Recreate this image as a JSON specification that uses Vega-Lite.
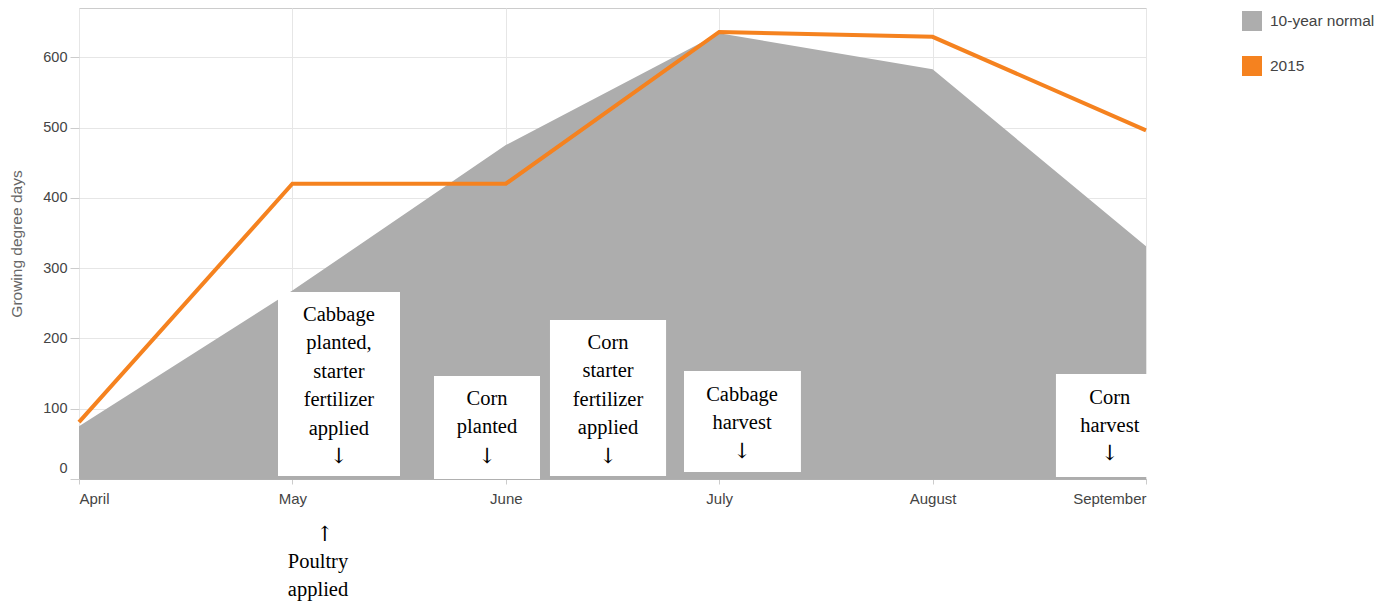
{
  "$schema": "https://vega.github.io/schema/vega-lite/v6.json",
  "width": 1067,
  "height": 471,
  "autosize": "none",
  "padding": {"left": 79, "top": 8, "right": 245, "bottom": 127},
  "background": "white",
  "config": {
    "view": {"stroke": "#cccccc"},
    "font": "Liberation Sans"
  },
  "datasets": {
    "gdd": [
      {"month": 0, "series": "10-year normal", "gdd": 75},
      {"month": 1, "series": "10-year normal", "gdd": 268},
      {"month": 2, "series": "10-year normal", "gdd": 475},
      {"month": 3, "series": "10-year normal", "gdd": 634},
      {"month": 4, "series": "10-year normal", "gdd": 583},
      {"month": 5, "series": "10-year normal", "gdd": 331},
      {"month": 0, "series": "2015", "gdd": 81},
      {"month": 1, "series": "2015", "gdd": 420},
      {"month": 2, "series": "2015", "gdd": 420},
      {"month": 3, "series": "2015", "gdd": 636},
      {"month": 4, "series": "2015", "gdd": 629},
      {"month": 5, "series": "2015", "gdd": 496}
    ],
    "boxes": [
      {"label": ["Cabbage", "planted,", "starter", "fertilizer", "applied"], "arrow": "↓", "x": 0.9325, "x2": 1.5042, "y": 266, "y2": 4.3, "tx": 1.218, "ty": 233.3, "ay": 31.3},
      {"label": ["Corn", "planted"], "arrow": "↓", "x": 1.6635, "x2": 2.1603, "y": 146.5, "y2": 0, "tx": 1.912, "ty": 113.8, "ay": 31.3},
      {"label": ["Corn", "starter", "fertilizer", "applied"], "arrow": "↓", "x": 2.207, "x2": 2.751, "y": 226.2, "y2": 4.3, "tx": 2.479, "ty": 193.5, "ay": 31.3},
      {"label": ["Cabbage", "harvest"], "arrow": "↓", "x": 2.835, "x2": 3.383, "y": 153.6, "y2": 10, "tx": 3.107, "ty": 119.5, "ay": 38.4},
      {"label": ["Corn", "harvest"], "arrow": "↓", "x": 4.578, "x2": 5.005, "y": 149.4, "y2": 2.8, "tx": 4.83, "ty": 115.2, "ay": 35.6}
    ],
    "below": [
      {"label": ["Poultry", "applied"], "arrow": "↑", "tx": 1.12, "ax": 1.152, "ty": -118.5, "ay": -79.7}
    ]
  },
  "layer": [
    {
      "data": {"name": "gdd"},
      "transform": [{"filter": "datum.series === '10-year normal'"}],
      "mark": {"type": "area", "opacity": 1},
      "encoding": {
        "x": {
          "field": "month", "type": "quantitative",
          "scale": {"domain": [0, 5], "nice": false, "zero": false},
          "axis": {
            "values": [0, 1, 2, 3, 4, 5],
            "labelExpr": "['April','May','June','July','August','September'][datum.value]",
            "labelFlush": true,
            "title": null,
            "grid": true,
            "gridColor": "#e6e6e6",
            "domainColor": "#b0b0b0",
            "tickColor": "#cccccc",
            "tickSize": 5,
            "labelPadding": 7,
            "labelFontSize": 15,
            "labelColor": "#444444"
          }
        },
        "y": {
          "field": "gdd", "type": "quantitative",
          "scale": {"domain": [0, 670], "nice": false},
          "axis": {
            "values": [0, 100, 200, 300, 400, 500, 600],
            "title": "Growing degree days",
            "titleFontSize": 15.5,
            "titleFontWeight": "normal",
            "titleColor": "#666666",
            "titlePadding": 18,
            "grid": true,
            "gridColor": "#e6e6e6",
            "domain": false,
            "tickColor": "#cccccc",
            "tickSize": 9,
            "labelPadding": 3,
            "labelFontSize": 14.5,
            "labelColor": "#444444",
            "labelOffset": {"condition": {"test": "datum.value === 0", "value": -11}, "value": 0}
          }
        },
        "color": {
          "field": "series", "type": "nominal",
          "scale": {"domain": ["10-year normal", "2015"], "range": ["#adadad", "#f5821f"]},
          "legend": {
            "title": null,
            "orient": "none",
            "legendX": 1163,
            "legendY": 3,
            "symbolType": "square",
            "symbolSize": 400,
            "symbolStrokeWidth": 0,
            "rowPadding": 25,
            "labelOffset": 8,
            "labelFontSize": 15.5,
            "labelColor": "#444444",
            "encode": {
              "symbols": {"update": {"fill": {"scale": "color", "field": "value"}, "stroke": {"value": "transparent"}, "opacity": {"value": 1}}}
            }
          }
        }
      }
    },
    {
      "data": {"name": "gdd"},
      "transform": [{"filter": "datum.series === '2015'"}],
      "mark": {"type": "line", "strokeWidth": 4},
      "encoding": {
        "x": {"field": "month", "type": "quantitative"},
        "y": {"field": "gdd", "type": "quantitative"},
        "color": {"field": "series", "type": "nominal"}
      }
    },
    {
      "data": {"name": "boxes"},
      "mark": {"type": "rect", "fill": "white"},
      "encoding": {
        "x": {"field": "x", "type": "quantitative"},
        "x2": {"field": "x2"},
        "y": {"field": "y", "type": "quantitative"},
        "y2": {"field": "y2"}
      }
    },
    {
      "data": {"name": "boxes"},
      "mark": {"type": "text", "font": "Liberation Serif", "fontSize": 20.5, "lineHeight": 28.4, "align": "center", "baseline": "middle", "color": "black"},
      "encoding": {
        "x": {"field": "tx", "type": "quantitative"},
        "y": {"field": "ty", "type": "quantitative"},
        "text": {"field": "label"}
      }
    },
    {
      "data": {"name": "boxes"},
      "mark": {"type": "text", "font": "DejaVu Serif", "fontSize": 21, "align": "center", "baseline": "middle", "color": "black"},
      "encoding": {
        "x": {"field": "tx", "type": "quantitative"},
        "y": {"field": "ay", "type": "quantitative"},
        "text": {"field": "arrow"}
      }
    },
    {
      "data": {"name": "below"},
      "mark": {"type": "text", "font": "Liberation Serif", "fontSize": 20.5, "lineHeight": 27.5, "align": "center", "baseline": "middle", "color": "black"},
      "encoding": {
        "x": {"field": "tx", "type": "quantitative"},
        "y": {"field": "ty", "type": "quantitative"},
        "text": {"field": "label"}
      }
    },
    {
      "data": {"name": "below"},
      "mark": {"type": "text", "font": "DejaVu Serif", "fontSize": 21, "align": "center", "baseline": "middle", "color": "black"},
      "encoding": {
        "x": {"field": "ax", "type": "quantitative"},
        "y": {"field": "ay", "type": "quantitative"},
        "text": {"field": "arrow"}
      }
    }
  ]
}
